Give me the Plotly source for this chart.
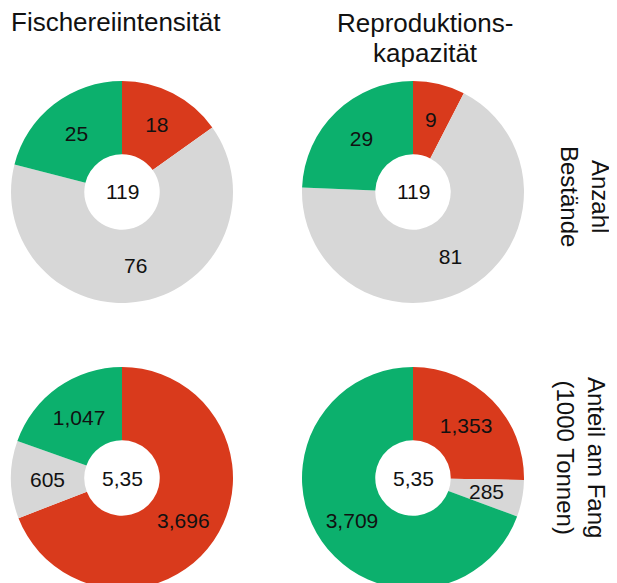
import math
import plotly.graph_objects as go

categories = ["rot", "grau", "grün"]
colors = ["#D93A1C", "#D7D7D7", "#0CB06D"]

bestaende_fischerei = [18, 76, 25]
bestaende_repro = [9, 81, 29]
fang_fischerei = [3696, 605, 1047]
fang_repro = [1353, 285, 3709]

center_top = "119"
center_bottom = "5,35"

col_title_1 = "Fischereiintensität"
col_title_2 = ["Reproduktions-", "kapazität"]
row_titles = ["Anzahl<br>Bestände", "Anteil am Fang<br>(1000 Tonnen)"]

W, H = 617, 583
OFF = 8  # page body margin
HOLE = 0.34
LABEL_SIZE = 21
SMALL = 0.12


def px(sx):
    return (sx - OFF) / W


def py(sy):
    return 1 - (sy - OFF) / H


def dom(cx, cy, r):
    return dict(x=[px(cx - r), px(cx + r)], y=[py(cy + r), py(cy - r)])


specs = [
    (bestaende_fischerei, 122, 192, 111, center_top),
    (bestaende_repro, 413, 192, 111, center_top),
    (fang_fischerei, 122, 478, 111, center_bottom),
    (fang_repro, 413, 478, 111, center_bottom),
]

fig = go.Figure()
annotations = []
for vals, cx, cy, r, ctext in specs:
    total = sum(vals)
    texts = []
    start = 0.0
    for v in vals:
        frac = v / total
        label = f"{v:,}"
        if frac < SMALL:
            texts.append("")
            mid = (start + frac / 2) * 2 * math.pi
            rr = r * (1 + HOLE) / 2
            annotations.append(dict(
                x=px(cx + rr * math.sin(mid)), y=py(cy - rr * math.cos(mid)),
                xref="paper", yref="paper", text=label, showarrow=False,
                xanchor="center", yanchor="middle",
                font=dict(size=LABEL_SIZE, color="#111111")))
        else:
            texts.append(label)
        start += frac
    fig.add_trace(go.Pie(
        labels=categories, values=vals, text=texts, sort=False, direction="clockwise", rotation=0,
        hole=HOLE, marker=dict(colors=colors, line=dict(width=0)),
        textinfo="text", textposition="inside", insidetextorientation="horizontal",
        textfont=dict(family="Liberation Sans, Arial", size=LABEL_SIZE, color="#111111"),
        domain=dom(cx, cy, r), showlegend=False, hoverinfo="label+value",
    ))
    annotations.append(dict(x=px(cx), y=py(cy), xref="paper", yref="paper", text=ctext,
                            showarrow=False, xanchor="center", yanchor="middle",
                            font=dict(size=LABEL_SIZE, color="#111111")))

annotations.append(dict(x=px(9), y=py(22), xref="paper", yref="paper", text=col_title_1,
                        showarrow=False, xanchor="left", yanchor="middle", font=dict(size=26)))
annotations.append(dict(x=px(425), y=py(23), xref="paper", yref="paper", text=col_title_2[0],
                        showarrow=False, xanchor="center", yanchor="middle", font=dict(size=26)))
annotations.append(dict(x=px(425), y=py(53), xref="paper", yref="paper", text=col_title_2[1],
                        showarrow=False, xanchor="center", yanchor="middle", font=dict(size=26)))
annotations.append(dict(x=px(585), y=py(196), xref="paper", yref="paper", text=row_titles[0],
                        showarrow=False, textangle=90, align="center",
                        xanchor="center", yanchor="middle", font=dict(size=24)))
annotations.append(dict(x=px(581), y=py(457), xref="paper", yref="paper", text=row_titles[1],
                        showarrow=False, textangle=90, align="center",
                        xanchor="center", yanchor="middle", font=dict(size=24)))

fig.update_layout(
    width=W, height=H, margin=dict(l=0, r=0, t=0, b=0),
    paper_bgcolor="white", plot_bgcolor="white",
    font=dict(family="Liberation Sans, Arial", color="#111111"),
    annotations=annotations,
)

fig.write_html("out.html")
